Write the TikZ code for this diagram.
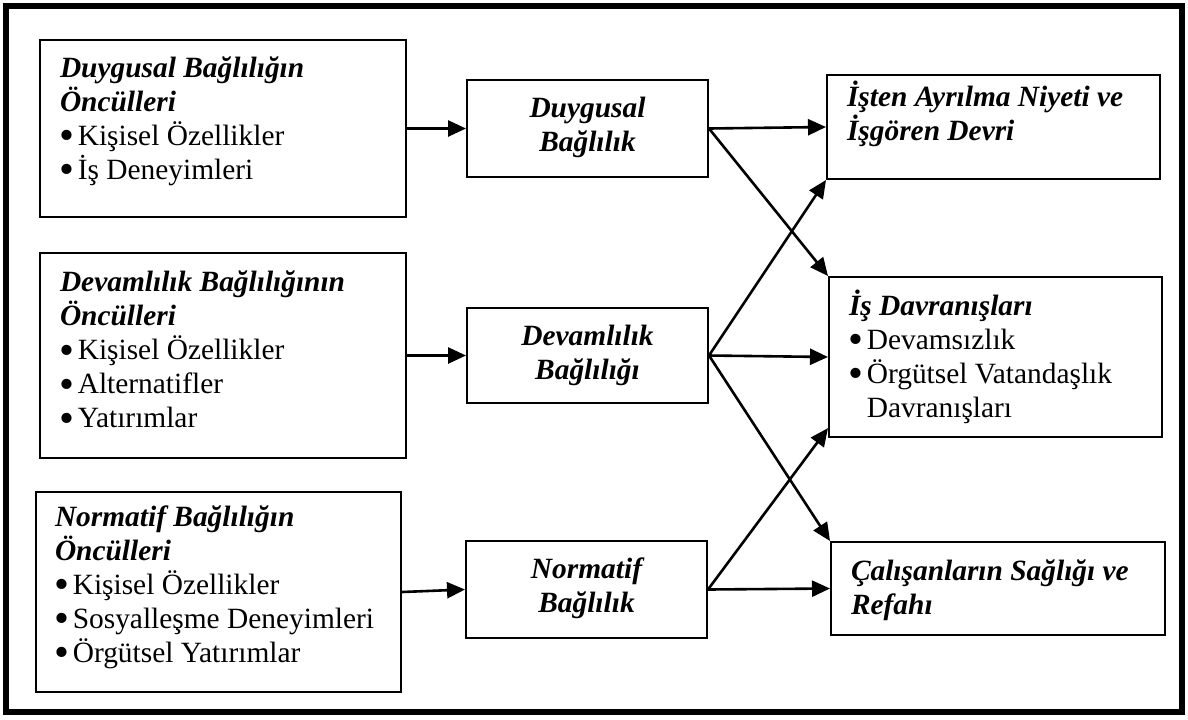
\documentclass[tikz,border=0pt]{standalone}
\usepackage{graphicx}
\usepackage{fontspec}
\setmainfont{Liberation Serif}
\usetikzlibrary{arrows.meta}

% enlarged list bullet, lowered to sit like the text's bullet
\newcommand\dotmark{\raisebox{-2.3pt}{\scalebox{1.45}{•}}}
% one bulleted entry, a continuation line under it, and a bold italic heading line
\newcommand\itm[1]{\mbox{\makebox[8.9pt][l]{\hspace*{-0.4pt}\dotmark}#1}}
\newcommand\hang[1]{\mbox{\hspace*{8.9pt}#1}}
\newcommand\head[1]{\mbox{\bfseries\itshape #1}}
% text block of a box: width, height, depth of the first baseline below the top, lines
\newcommand\firstline{\rule{0pt}{13pt}}
\newcommand\boxtext[4]{\parbox[c][#2][t]{#1}{\vskip\dimexpr#3-13pt\relax\firstline #4}}
\newcommand\cboxtext[4]{\parbox[c][#2][t]{#1}{\centering\vskip\dimexpr#3-13pt\relax\firstline #4}}

\tikzset{
  box/.style={draw, line width=1pt, inner sep=0pt,
              font=\fontsize{14.7}{17}\selectfont},
  link/.style={line width=1.3pt, -{Triangle[length=9pt,width=8pt]}},
}

\begin{document}
\begin{tikzpicture}[x=0.5pt, y=-0.5pt]
  \useasboundingbox (0,0) rectangle (1188,719);
  \fill[white] (0,0) rectangle (1188,719);
  \draw[line width=3pt] (6.3,6.3) rectangle (1181.5,711.5);

  % antecedents
  \node[box, minimum width=183pt] (B1) at (223,128.5)
    {\boxtext{163pt}{88.5pt}{18.65pt}{\head{Duygusal Bağlılığın}\\\head{Öncülleri}\\\itm{Kişisel Özellikler}\\\itm{İş Deneyimleri}}};
  \node[box, minimum width=183pt] (B2) at (223,355.5)
    {\boxtext{163pt}{102.5pt}{19.35pt}{\head{Devamlılık Bağlılığının}\\\head{Öncülleri}\\\itm{Kişisel Özellikler}\\\itm{Alternatifler}\\\itm{Yatırımlar}}};
  \node[box, minimum width=182.5pt] (B3) at (218.5,592)
    {\boxtext{163.5pt}{100pt}{17pt}{\head{Normatif Bağlılığın}\\\head{Öncülleri}\\\itm{Kişisel Özellikler}\\\itm{Sosyalleşme Deneyimleri}\\\itm{Örgütsel Yatırımlar}}};

  % commitment components
  \node[box, minimum width=120.5pt] (M1) at (587.5,128.5)
    {\cboxtext{110pt}{48.5pt}{18.65pt}{\head{Duygusal}\\\head{Bağlılık}}};
  \node[box, minimum width=120.5pt] (M2) at (587.5,355.5)
    {\cboxtext{110pt}{47.5pt}{18.5pt}{\head{Devamlılık}\\\head{Bağlılığı}}};
  \node[box, minimum width=120.5pt] (M3) at (586.5,589.5)
    {\cboxtext{110pt}{48.5pt}{18.5pt}{\head{Normatif}\\\head{Bağlılık}}};

  % outcomes
  \node[box, minimum width=166.5pt] (R1) at (993.5,127)
    {\boxtext{146.5pt}{52pt}{15.5pt}{\head{İşten Ayrılma Niyeti ve}\\\head{İşgören Devri}}};
  \node[box, minimum width=166.5pt] (R2) at (995.5,357)
    {\boxtext{146.5pt}{80pt}{19pt}{\head{İş Davranışları}\\\itm{Devamsızlık}\\\itm{Örgütsel Vatandaşlık}\\\hang{Davranışları}}};
  \node[box, minimum width=167pt] (R3) at (998,588.5)
    {\boxtext{147pt}{46.5pt}{19pt}{\head{Çalışanların Sağlığı ve}\\\head{Refahı}}};

  % antecedents to components
  \draw[link] (B1.east) -- (M1.west);
  \draw[link] (B2.east) -- (M2.west);
  \draw[link] (B3.east) -- (M3.west);

  % components to outcomes
  \draw[link] (M1.east) -- (R1.west);
  \draw[link] (M1.east) -- (R2.north west);
  \draw[link] (M2.east) -- (R1.south west);
  \draw[link] (M2.east) -- (R2.west);
  \draw[link] (M2.east) -- (R3.north west);
  \draw[link] (M3.east) -- (R2.203);
  \draw[link] (M3.east) -- (R3.west);
\end{tikzpicture}
\end{document}
